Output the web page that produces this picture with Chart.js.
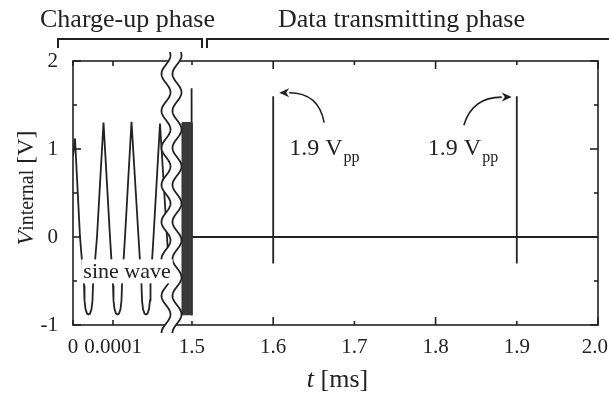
<!DOCTYPE html>
<html>
<head>
<meta charset="utf-8">
<script src="https://cdn.jsdelivr.net/npm/chart.js@4.4.1/dist/chart.umd.min.js"></script>
<style>
html,body{margin:0;padding:0;background:#fff;overflow:hidden;}
#wrap{width:609px;height:394px;position:relative;}
</style>
</head>
<body>
<div id="wrap"><canvas id="c" width="609" height="394"></canvas></div>
<script>
// ---------- data (time in ms, voltage in V) ----------
// charge-up phase: sine wave
const sineTime = [0, 0.000005, 0.0000175, 0.0000275, 0.00002875, 0.00003125, 0.000035, 0.00003875, 0.0000425, 0.00004625, 0.00004875, 0.00005, 0.00006, 0.00007625,
  0.0000925, 0.0001, 0.00010125, 0.00010375, 0.0001075, 0.00011125, 0.000115, 0.00011875, 0.00012125, 0.0001225, 0.00013, 0.00014625,
  0.00016375, 0.00017125, 0.0001725, 0.000175, 0.00017875, 0.0001825, 0.00018625, 0.00019, 0.0001925, 0.00019375, 0.00020125, 0.0002175,
  0.000235, 0.0002425, 0.0002475, 0.00025375];
const sineVolt = [0.92, 1.12, 0.0, -0.55, -0.72, -0.82, -0.87, -0.88, -0.87, -0.82, -0.72, -0.55, 0.0, 1.30,
  0.0, -0.55, -0.72, -0.82, -0.87, -0.88, -0.87, -0.82, -0.72, -0.55, 0.0, 1.31,
  0.0, -0.55, -0.72, -0.82, -0.87, -0.88, -0.87, -0.82, -0.72, -0.55, 0.0, 1.29,
  0.0, -0.55, -0.82, -0.88];
// dense sine just before 1.5 ms (drawn as a dark band)
const burstTime = [1.4877, 1.4877, 1.5, 1.5];
const burstVolt = [-0.89, 1.30, 1.30, -0.89];
// data transmitting phase
const pulseTime = [1.4995, 1.4995, 1.6, 1.6, 1.6, 1.6, 1.9, 1.9, 1.9, 1.9, 2.0];
const pulseVolt = [1.69, 0, 0, 1.6, -0.3, 0, 0, 1.6, -0.3, 0, 0];
// axes
const yTicks = [-1, 0, 1, 2];
const yMinorTicks = [-0.5, 0.5, 1.5];
const xTicksLeft = [0, 0.0001];
const xTickLabelsLeft = ['0', '0.0001'];
const xTicksRight = [1.5, 1.6, 1.7, 1.8, 1.9, 2.0];
const xTickLabelsRight = ['1.5', '1.6', '1.7', '1.8', '1.9', '2.0'];
const phaseLabels = ['Charge-up phase', 'Data transmitting phase'];
const ppLabel = '1.9 V', ppSub = 'pp';

const FONT = "'Liberation Serif','Times New Roman',serif";
const INK = '#222';

const zip = (xs, ys) => xs.map((x, i) => ({x, y: ys[i]}));

const deco = {
  id: 'deco',
  afterDatasetsDraw(chart) {
    const {ctx, chartArea: a, scales} = chart;
    const xL = scales.xL, xR = scales.xR, y = scales.y;
    const line = (x1, y1, x2, y2) => { ctx.beginPath(); ctx.moveTo(x1, y1); ctx.lineTo(x2, y2); ctx.stroke(); };
    ctx.save();
    ctx.strokeStyle = INK; ctx.fillStyle = INK; ctx.lineWidth = 1.6;
    // frame
    ctx.strokeRect(a.left, a.top, a.right - a.left, a.bottom - a.top);
    // y ticks (inward, both sides)
    [...yTicks, ...yMinorTicks].forEach(v => {
      const py = y.getPixelForValue(v);
      const len = yTicks.includes(v) ? 8 : 4;
      line(a.left, py, a.left + len, py);
      line(a.right, py, a.right - len, py);
    });
    // x ticks
    xTicksRight.forEach((v, i) => {
      const px = xR.getPixelForValue(v);
      const len = i % 2 ? 8 : 4;
      line(px, a.top, px, a.top + len);
      line(px, a.bottom, px, a.bottom - len);
    });
    xTicksLeft.forEach(v => {
      const px = xL.getPixelForValue(v);
      line(px, a.top, px, a.top + 5);
      line(px, a.bottom, px, a.bottom - 5);
    });
    // axis break (two wavy lines, white between)
    const bx = xR.getPixelForValue(1.5) - 26;
    const top = a.top - 9, bot = a.bottom + 8, gap = 11;
    const wx = (yy, off) => bx + off + 4.5 * Math.sin((yy - top) / 37 * 2 * Math.PI + 1.0);
    ctx.beginPath();
    for (let yy = top; yy <= bot; yy += 1) ctx.lineTo(wx(yy, 0), yy);
    for (let yy = bot; yy >= top; yy -= 1) ctx.lineTo(wx(yy, gap), yy);
    ctx.closePath();
    ctx.fillStyle = '#fff'; ctx.fill();
    ctx.lineWidth = 1.8;
    [0, gap].forEach(off => {
      ctx.beginPath();
      for (let yy = top; yy <= bot; yy += 1) ctx.lineTo(wx(yy, off), yy);
      ctx.stroke();
    });
    // "sine wave" label
    ctx.font = '22px ' + FONT;
    const sx = xL.getPixelForValue(0.000135), sy = y.getPixelForValue(-0.47);
    const sw = ctx.measureText('sine wave').width;
    ctx.fillStyle = '#fff';
    ctx.fillRect(sx - sw / 2 - 2, sy - 19, sw + 4, 24);
    ctx.fillStyle = INK; ctx.textAlign = 'center'; ctx.textBaseline = 'alphabetic';
    ctx.fillText('sine wave', sx, sy);

    // 1.9 Vpp annotations
    const drawPP = (x0, base) => {
      ctx.textAlign = 'left';
      ctx.font = '24px ' + FONT;
      ctx.fillText(ppLabel, x0, base);
      const w = ctx.measureText(ppLabel).width;
      ctx.font = '16px ' + FONT;
      ctx.fillText(ppSub, x0 + w + 1, base + 7);
    };
    drawPP(xR.getPixelForValue(1.6) + 16, y.getPixelForValue(0.93));
    drawPP(xR.getPixelForValue(1.9) - 89, y.getPixelForValue(0.93));
    // curved arrows
    const arrow = (s, c, t) => {
      const dx = t[0] - c[0], dy = t[1] - c[1], d = Math.hypot(dx, dy);
      const ux = dx / d, uy = dy / d, hl = 10, hw = 4.5;
      const bxp = t[0] - ux * hl, byp = t[1] - uy * hl;
      ctx.lineWidth = 1.6;
      ctx.beginPath(); ctx.moveTo(s[0], s[1]); ctx.quadraticCurveTo(c[0], c[1], bxp, byp); ctx.stroke();
      ctx.beginPath(); ctx.moveTo(t[0], t[1]);
      ctx.lineTo(bxp - uy * hw, byp + ux * hw);
      ctx.lineTo(bxp + ux * 3, byp + uy * 3);
      ctx.lineTo(bxp + uy * hw, byp - ux * hw);
      ctx.closePath(); ctx.fill();
    };
    const P = (t, v) => [xR.getPixelForValue(t), y.getPixelForValue(v)];
    arrow(P(1.6628, 1.30), P(1.656, 1.64), P(1.6074, 1.64));
    arrow(P(1.8348, 1.27), P(1.845, 1.59), P(1.8938, 1.59));

    // x tick labels
    ctx.font = '21px ' + FONT; ctx.textAlign = 'center'; ctx.textBaseline = 'alphabetic';
    const lblY = a.bottom + 28;
    xTicksLeft.forEach((v, i) => ctx.fillText(xTickLabelsLeft[i], xL.getPixelForValue(v), lblY));
    xTicksRight.forEach((v, i) => {
      const w = ctx.measureText(xTickLabelsRight[i]).width;
      const px = Math.min(xR.getPixelForValue(v), chart.width - w / 2 - 1);
      ctx.fillText(xTickLabelsRight[i], px, lblY);
    });
    // x axis title: t [ms]
    ctx.textAlign = 'left';
    ctx.font = 'italic 26px ' + FONT;
    const tw = ctx.measureText('t').width;
    ctx.font = '26px ' + FONT;
    const rw = ctx.measureText(' [ms]').width;
    const tx0 = (a.left + a.right) / 2 - (tw + rw) / 2 + 2;
    ctx.font = 'italic 26px ' + FONT; ctx.fillText('t', tx0, chart.height - 7);
    ctx.font = '26px ' + FONT; ctx.fillText(' [ms]', tx0 + tw, chart.height - 7);
    // y axis title: Vinternal [V]
    ctx.save();
    ctx.translate(33, (a.top + a.bottom) / 2 - 5);
    ctx.rotate(-Math.PI / 2);
    const parts = [['V', 'italic 24px '], ['internal', '20px '], [' [V]', '24px ']];
    let tot = 0;
    parts.forEach(p => { ctx.font = p[1] + FONT; p.push(ctx.measureText(p[0]).width); tot += p[2]; });
    let cx = -tot / 2;
    parts.forEach(p => { ctx.font = p[1] + FONT; ctx.fillText(p[0], cx, 0); cx += p[2]; });
    ctx.restore();

    // phase brackets and labels
    ctx.lineWidth = 2;
    const by = 39, bd = 48;
    ctx.beginPath(); ctx.moveTo(58, bd); ctx.lineTo(58, by); ctx.lineTo(202, by); ctx.lineTo(202, bd); ctx.stroke();
    ctx.beginPath(); ctx.moveTo(207, bd); ctx.lineTo(207, by); ctx.lineTo(chart.width + 2, by); ctx.stroke();
    ctx.font = '26px ' + FONT; ctx.textAlign = 'left';
    ctx.fillText(phaseLabels[0], 40, 27);
    ctx.fillText(phaseLabels[1], 278, 27);
    ctx.restore();
  }
};

new Chart(document.getElementById('c'), {
  type: 'line',
  data: {
    datasets: [
      { data: zip(sineTime, sineVolt), xAxisID: 'xL', yAxisID: 'y', borderColor: INK, borderWidth: 1.8, pointRadius: 0, tension: 0, fill: false },
      { data: zip(burstTime, burstVolt), xAxisID: 'xR', yAxisID: 'y', borderColor: '#333', backgroundColor: '#3a3a3a', borderWidth: 1, pointRadius: 0, tension: 0, fill: 'shape' },
      { data: zip(pulseTime, pulseVolt), xAxisID: 'xR', yAxisID: 'y', borderColor: INK, borderWidth: 1.8, pointRadius: 0, tension: 0, fill: false }
    ]
  },
  options: {
    responsive: false,
    animation: false,
    devicePixelRatio: 1,
    layout: { padding: { top: 61, right: 11, bottom: 69, left: 0 } },
    plugins: { legend: { display: false }, tooltip: { enabled: false } },
    scales: {
      xL: { type: 'linear', position: 'bottom', min: 0, max: 0.0013125, display: false },
      xR: { type: 'linear', position: 'bottom', min: 1.35345, max: 2.0, display: false },
      y: {
        type: 'linear', position: 'left', min: -1, max: 2,
        afterBuildTicks: s => { s.ticks = yTicks.map(v => ({ value: v })); },
        afterFit: s => { s.width = 73; },
        grid: { display: false, drawTicks: false },
        border: { display: false },
        ticks: { font: { family: FONT, size: 21 }, color: INK, padding: 15 }
      }
    }
  },
  plugins: [deco]
});
</script>
</body>
</html>
